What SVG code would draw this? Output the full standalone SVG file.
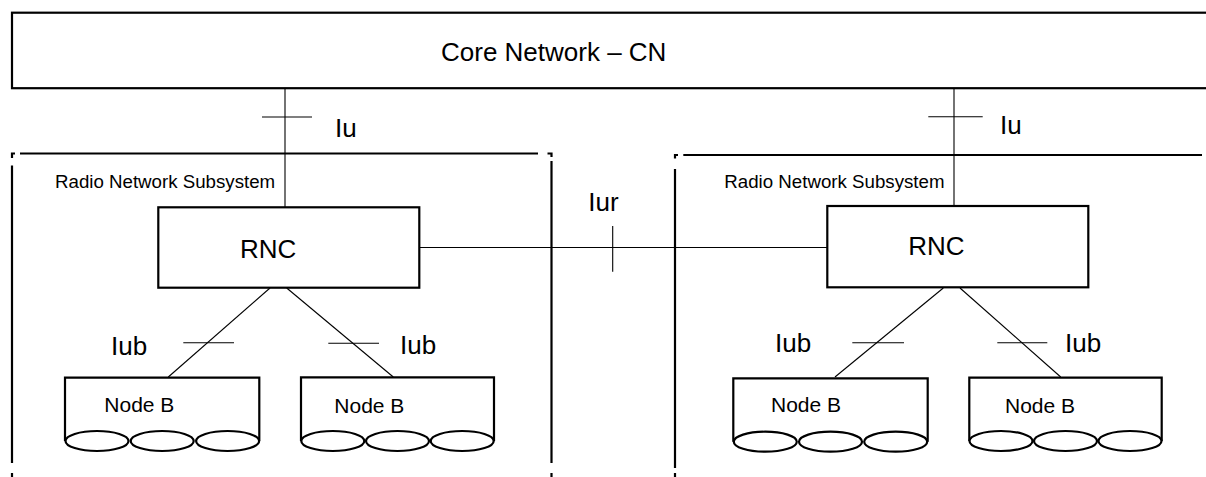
<svg xmlns="http://www.w3.org/2000/svg" width="1206" height="477" viewBox="0 0 1206 477">
<style>
.box{fill:#fff;stroke:#000;stroke-width:2.2}
.rns{fill:none;stroke:#000;stroke-width:2.2}
.ell{fill:#fff;stroke:#000;stroke-width:2.2}
.ln{fill:none;stroke:#000;stroke-width:1.1}
.big{font-family:"Liberation Sans",Arial,sans-serif;font-size:26px;fill:#000}
.nb{font-family:"Liberation Sans",Arial,sans-serif;font-size:21px;fill:#000}
.sm{font-family:"Liberation Sans",Arial,sans-serif;font-size:18.7px;fill:#000}
</style>
<rect width="1206" height="477" fill="#fff"/>
<g id="cn">
<rect class="box" x="12" y="12.7" width="1200" height="75.5"/>
<text class="big" x="441" y="61">Core Network – CN</text>
</g>
<g id="rns-left">
<path class="rns" d="M12,158 V153.5 H15 M20,153.5 H538 M547.5,153.5 H551.5 V157 M551.5,161 V463 M551.5,473 V477 M12,165.5 V463 M12,473 V477"/>
<text class="sm" x="55" y="188.3">Radio Network Subsystem</text>
</g>
<g id="rns-right">
<path class="rns" d="M675,158.5 V155 H678 M683.3,155 H1202 M675,169 V468 M675,473 V477"/>
<text class="sm" x="724.3" y="187.7">Radio Network Subsystem</text>
</g>
<g id="connectors">
<line class="ln" x1="285" y1="88" x2="285" y2="207"/>
<line class="ln" x1="262" y1="117" x2="312" y2="117"/>
<line class="ln" x1="954" y1="88" x2="954" y2="206"/>
<line class="ln" x1="928.3" y1="116.7" x2="982.7" y2="116.7"/>
<line class="ln" x1="419" y1="247.5" x2="827" y2="247.5"/>
<line class="ln" x1="612.7" y1="226" x2="612.7" y2="271.7"/>
<line class="ln" x1="270" y1="288" x2="168.3" y2="377"/>
<line class="ln" x1="183.3" y1="342.7" x2="234" y2="342.7"/>
<line class="ln" x1="286.7" y1="288" x2="393.3" y2="377"/>
<line class="ln" x1="328.3" y1="343.3" x2="379" y2="343.3"/>
<line class="ln" x1="943.3" y1="288" x2="835" y2="377"/>
<line class="ln" x1="852.3" y1="342.7" x2="904" y2="342.7"/>
<line class="ln" x1="960" y1="288" x2="1060.7" y2="377"/>
<line class="ln" x1="997.3" y1="342.7" x2="1047.3" y2="342.7"/>
<text class="big" x="335" y="137">Iu</text>
<text class="big" x="1000" y="133.5">Iu</text>
<text class="big" x="588.3" y="211">Iur</text>
<text class="big" x="111" y="355">Iub</text>
<text class="big" x="400" y="354.3">Iub</text>
<text class="big" x="775" y="352.3">Iub</text>
<text class="big" x="1065" y="351.7">Iub</text>
</g>
<g id="rnc-left">
<rect class="box" x="158.3" y="207.3" width="261" height="80.4"/>
<text class="big" x="240" y="258.3">RNC</text>
</g>
<g id="rnc-right">
<rect class="box" x="827.3" y="206" width="261" height="81.3"/>
<text class="big" x="908.3" y="255">RNC</text>
</g>
<g id="nodeb-1">
<path class="box" d="M65,441 V377.7 H259.3 V441"/>
<ellipse class="ell" cx="97" cy="441" rx="31.5" ry="10"/>
<ellipse class="ell" cx="162.2" cy="441" rx="31.5" ry="10"/>
<ellipse class="ell" cx="227.6" cy="441" rx="31.5" ry="10"/>
<text class="nb" x="104.3" y="412.3">Node B</text>
</g>
<g id="nodeb-2">
<path class="box" d="M301,441 V377.3 H494 V441"/>
<ellipse class="ell" cx="332.8" cy="441" rx="31.5" ry="10"/>
<ellipse class="ell" cx="397.5" cy="441" rx="31.5" ry="10"/>
<ellipse class="ell" cx="462.2" cy="441" rx="31.5" ry="10"/>
<text class="nb" x="334.3" y="413.3">Node B</text>
</g>
<g id="nodeb-3">
<path class="box" d="M733.3,441.7 V378.3 H927.7 V441.7"/>
<ellipse class="ell" cx="765.3" cy="441.7" rx="31.5" ry="10"/>
<ellipse class="ell" cx="830.5" cy="441.7" rx="31.5" ry="10"/>
<ellipse class="ell" cx="895.7" cy="441.7" rx="31.5" ry="10"/>
<text class="nb" x="771" y="411.7">Node B</text>
</g>
<g id="nodeb-4">
<path class="box" d="M969.3,441 V377.7 H1161.7 V441"/>
<ellipse class="ell" cx="1001" cy="441" rx="31.5" ry="10"/>
<ellipse class="ell" cx="1065.5" cy="441" rx="31.5" ry="10"/>
<ellipse class="ell" cx="1130" cy="441" rx="31.5" ry="10"/>
<text class="nb" x="1005" y="413.3">Node B</text>
</g>
</svg>
